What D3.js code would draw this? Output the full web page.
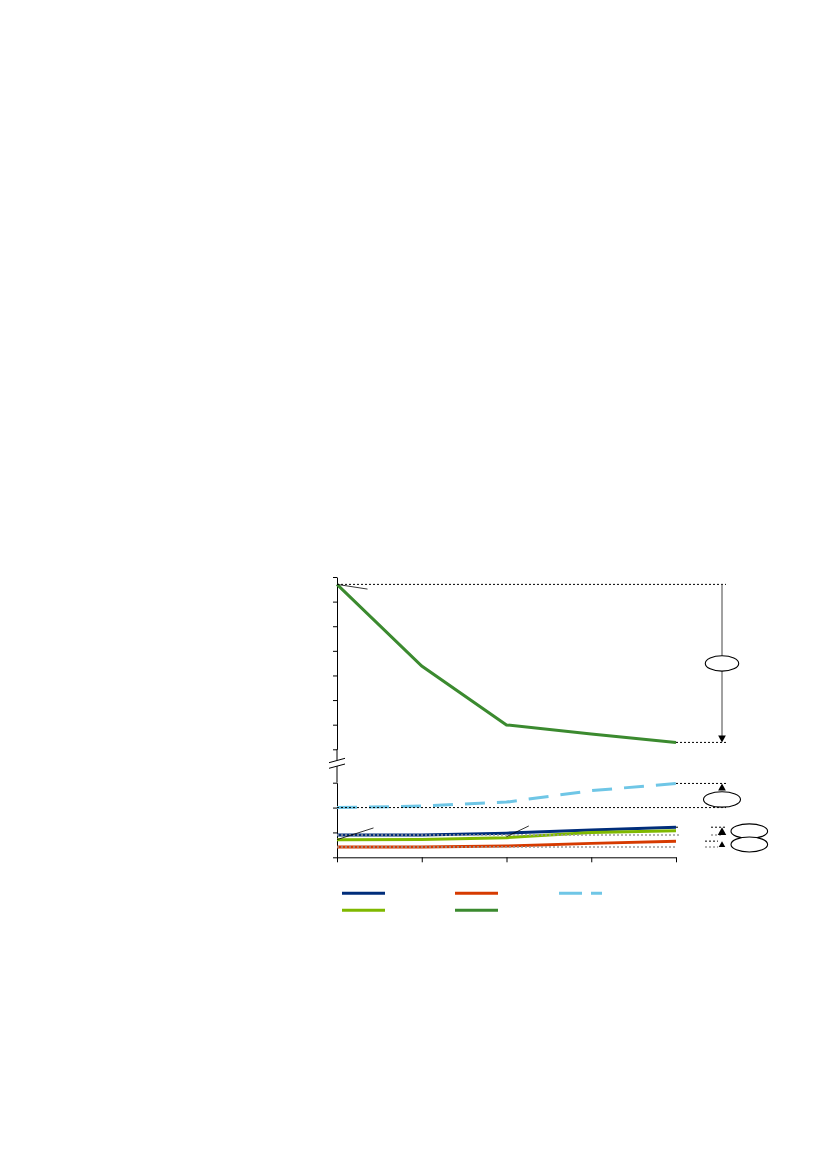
<!DOCTYPE html>
<html>
<head>
<meta charset="utf-8">
<script src="https://cdn.jsdelivr.net/npm/d3@7"></script>
<style>
  body { margin: 0; background: #fff; }
  svg { display: block; }
</style>
</head>
<body>
<svg id="chart"></svg>
<script>
// categories along x (no labels are printed in the reference)
const years = ["2000", "2005", "2010", "2015", "2020"];

// lower panel series
const navyValues = [9.0, 9.0, 9.7, 11.0, 12.1];
const limeValues = [7.1, 7.2, 7.9, 10.0, 10.7];
const redValues = [4.1, 4.1, 4.5, 5.6, 6.5];
const skyValues = [20.0, 20.6, 22.2, 26.8, 29.7];
// upper panel series
const forestValues = [107.0, 73.8, 49.9, 46.2, 42.8];

const lowerTicks = [0, 10, 20, 30];
const upperTicks = [40, 50, 60, 70, 80, 90, 100, 110];

const width = 827, height = 1169;

const svg = d3.select("#chart")
  .attr("width", width)
  .attr("height", height);

const x = d3.scalePoint()
  .domain(years)
  .range([337, 676]);

const yUp = d3.scaleLinear()
  .domain([40, 110])
  .range([749.3, 577]);

const yLow = d3.scaleLinear()
  .domain([0, 30])
  .range([857.3, 782.7]);

// axes
svg.append("g")
  .attr("transform", `translate(${x.range()[0]},0)`)
  .call(d3.axisLeft(yUp).tickValues(upperTicks).tickSize(4).tickSizeOuter(0).tickFormat(""));

svg.append("g")
  .attr("transform", `translate(${x.range()[0]},0)`)
  .call(d3.axisLeft(yLow).tickValues(lowerTicks).tickSize(4).tickSizeOuter(0).tickFormat(""));

svg.selectAll(".domain, .tick line").attr("stroke", "#000").attr("stroke-width", 1);

// join the two axis pieces
svg.append("line")
  .attr("x1", x.range()[0]).attr("x2", x.range()[0])
  .attr("y1", yUp(40)).attr("y2", yLow(30))
  .attr("stroke", "#000");

// axis break
const bx = x.range()[0];
svg.append("path")
  .attr("d", `M${bx - 8},${762.7} L${bx + 8},${758.3} L${bx + 8},${764} L${bx - 8},${768.3} Z`)
  .attr("fill", "#fff");
[[762.7, 758.3], [768.3, 764]].forEach(([a, b]) => {
  svg.append("line")
    .attr("x1", bx - 8).attr("y1", a)
    .attr("x2", bx + 8).attr("y2", b)
    .attr("stroke", "#000").attr("stroke-width", 1);
});

const xAxis = svg.append("g")
  .attr("transform", `translate(0,${yLow(0)})`)
  .call(d3.axisBottom(x).tickSize(5).tickSizeOuter(0).tickFormat(""));
xAxis.selectAll(".domain, .tick line").attr("stroke", "#000");

// series
const series = [
  { values: navyValues, scale: yLow, color: "#002d7a", dash: null },
  { values: limeValues, scale: yLow, color: "#7fb800", dash: null },
  { values: redValues, scale: yLow, color: "#d63a00", dash: null },
  { values: skyValues, scale: yLow, color: "#6fc6e6", dash: "20,12" },
  { values: forestValues, scale: yUp, color: "#3b8a2f", dash: null }
];

series.forEach(s => {
  const line = d3.line()
    .x((d, i) => x(years[i]))
    .y(d => s.scale(d));
  svg.append("path")
    .datum(s.values)
    .attr("d", line)
    .attr("fill", "none")
    .attr("stroke", s.color)
    .attr("stroke-width", 3)
    .attr("stroke-dasharray", s.dash);
});

// reference lines and change markers
const x0 = x(years[0]);
const xEnd = x(years[years.length - 1]);
const annX = xEnd + 46;
const last = years.length - 1;

function dotted(x1, x2, y, color) {
  svg.append("line")
    .attr("x1", x1).attr("x2", x2)
    .attr("y1", y).attr("y2", y)
    .attr("stroke", color)
    .attr("stroke-width", color === "#000" ? 1 : 1.5)
    .attr("stroke-dasharray", "2,2");
}

function arrowHead(tipY, dir, size) {
  const h = size, w = size * 0.55;
  svg.append("path")
    .attr("d", `M${annX},${tipY} L${annX - w},${tipY + dir * h} L${annX + w},${tipY + dir * h} Z`)
    .attr("fill", "#000");
}

function bubble(cx, cy, rx, ry) {
  svg.append("ellipse")
    .attr("cx", cx).attr("cy", cy)
    .attr("rx", rx).attr("ry", ry)
    .attr("fill", "#fff")
    .attr("stroke", "#000")
    .attr("stroke-width", 1.1);
}

// big drop in the upper series
dotted(x0, annX + 4, yUp(forestValues[0]), "#000");
dotted(xEnd, annX + 4, yUp(forestValues[last]), "#000");
svg.append("line")
  .attr("x1", annX).attr("x2", annX)
  .attr("y1", yUp(forestValues[0])).attr("y2", yUp(forestValues[last]) - 6)
  .attr("stroke", "#444").attr("stroke-width", 1);
arrowHead(yUp(forestValues[last]), -1, 7);
bubble(annX, (yUp(forestValues[0]) + yUp(forestValues[last])) / 2, 16.7, 7.7);

// rise in the dashed series
dotted(x0, annX + 4, yLow(skyValues[0]), "#000");
dotted(xEnd, annX + 4, yLow(skyValues[last]), "#000");
arrowHead(yLow(skyValues[last]), 1, 7);
bubble(annX, yLow(skyValues[last]) + 16, 18.5, 7.7);

// rise in the navy series
dotted(x0, xEnd + 4, yLow(navyValues[0]), "#999");
dotted(annX - 11, annX + 1, yLow(navyValues[0]), "#999");
dotted(xEnd, xEnd + 4, yLow(navyValues[last]), "#000");
dotted(annX - 11, annX + 3, yLow(navyValues[last]), "#000");
arrowHead(yLow(navyValues[last]), 1, yLow(navyValues[0]) - yLow(navyValues[last]));
bubble(annX + 27.3, yLow(navyValues[last]) + 4, 18.3, 7.3);

// rise in the red series
dotted(x0, xEnd, yLow(redValues[0]), "#999");
dotted(annX - 17, annX - 4, yLow(redValues[0]), "#999");
dotted(annX - 17, annX - 4, yLow(redValues[last]), "#000");
arrowHead(yLow(redValues[last]), 1, yLow(redValues[0]) - yLow(redValues[last]));
bubble(annX + 27.3, yLow(redValues[last]) + 3.3, 18.3, 7.5);

// leader lines
const leaders = [
  [x0, yUp(forestValues[0]), 30.5, 4.7],
  [x0, yLow(limeValues[0]), 36.5, -11.7],
  [x(years[2]), yLow(limeValues[2]) - 1, 22.3, -10.7]
];
leaders.forEach(([lx, ly, dx, dy]) => {
  svg.append("line")
    .attr("x1", lx).attr("y1", ly)
    .attr("x2", lx + dx).attr("y2", ly + dy)
    .attr("stroke", "#000").attr("stroke-width", 0.8);
});

// legend (line samples only, as in the reference)
const legendItems = [
  { color: "#002d7a", dash: null, col: 0, row: 0 },
  { color: "#d63a00", dash: null, col: 1, row: 0 },
  { color: "#6fc6e6", dash: "23,9", col: 2, row: 0 },
  { color: "#7fb800", dash: null, col: 0, row: 1 },
  { color: "#3b8a2f", dash: null, col: 1, row: 1 }
];
const legendCols = [342, 455, 559];
const legendRows = [893.3, 910.3];

svg.append("g")
  .selectAll("line")
  .data(legendItems)
  .join("line")
  .attr("x1", d => legendCols[d.col])
  .attr("x2", d => legendCols[d.col] + 43)
  .attr("y1", d => legendRows[d.row])
  .attr("y2", d => legendRows[d.row])
  .attr("stroke", d => d.color)
  .attr("stroke-width", 3)
  .attr("stroke-dasharray", d => d.dash);
</script>
</body>
</html>
